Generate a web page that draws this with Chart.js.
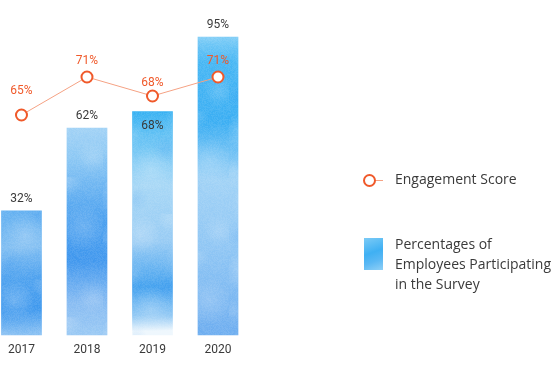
<!DOCTYPE html>
<html>
<head>
<meta charset="utf-8">
<script src="https://cdn.jsdelivr.net/npm/chart.js@4.4.1/dist/chart.umd.min.js"></script>
<style>
  html, body { margin: 0; padding: 0; background: #ffffff; }
  #wrap { position: relative; width: 556px; height: 372px; overflow: hidden; }
  #c { position: absolute; left: 0; top: 0; }
  .lg { position: absolute; font-family: "Open Sans", Roboto, sans-serif; font-size: 14px; color: #3a3a3a; line-height: 20px; white-space: nowrap; }
  #sw1 { position: absolute; left: 363px; top: 174px; width: 9px; height: 9px; border: 2px solid #f0592a; border-radius: 50%; background: #fff; }
  #sw1l { position: absolute; left: 375px; top: 180px; width: 8px; height: 1px; background: #f5a284; }
  #sw2 { position: absolute; left: 364px; top: 238px; width: 19px; height: 32px;
         background: linear-gradient(160deg, #7ccbf6 0%, #3fb0f3 45%, #5ab8f4 70%, #8fd0f6 100%); }
</style>
</head>
<body>
<div id="wrap">
  <canvas id="c" width="556" height="372"></canvas>
  <div id="sw1l"></div>
  <div id="sw1"></div>
  <div class="lg" id="t1" style="left:395px; top:169px;">Engagement Score</div>
  <div id="sw2"></div>
  <div class="lg" id="t2" style="left:395px; top:234px;">Percentages of<br>Employees Participating<br>in the Survey</div>
</div>
<script>
// ---- data ----
const years = ['2017', '2018', '2019', '2020'];
const participation = [32, 62, 68, 95];
const engagement = [65, 71, 68, 71];
const seriesNames = ['Engagement Score', 'Percentages of Employees Participating in the Survey'];

// ---- axis ranges ----
const barAxisMin = -13, barAxisMax = 108.4;
const lineAxisMin = 30.26, lineAxisMax = 83.16;

// ---- styles (watercolor-like gradient stops per bar) ----
const barStops = [
  [[0, '#62b0f1'], [0.3, '#7ebdf2'], [0.55, '#4ea2ef'], [0.8, '#3d98ee'], [1, '#86bff3']],
  [[0, '#a3d3f6'], [0.15, '#8cc8f4'], [0.45, '#4aa0ef'], [0.65, '#3f97ee'], [0.85, '#86bbf2'], [1, '#98c8f4']],
  [[0, '#2eaef2'], [0.12, '#5fc0f4'], [0.35, '#a6d7f6'], [0.6, '#97cbf4'], [0.8, '#44a2ef'], [0.93, '#8cc6f4'], [1, '#eef7fd']],
  [[0, '#86d0f7'], [0.1, '#45b6f4'], [0.3, '#3aaef3'], [0.5, '#a0d2f6'], [0.75, '#8cc4f4'], [1, '#6eaef0']]
];
const ORANGE = '#f0592a';
const ORANGE_LINE = '#f5a284';
const TEXT = '#3a3a3a';
const FONT = 'Roboto, "Noto Sans", sans-serif';

// soft paper-like texture overlay (deterministic hash noise + soft blotches)
function makeTexture() {
  const cv = document.createElement('canvas');
  cv.width = 80; cv.height = 140;
  const t = cv.getContext('2d');
  const img = t.createImageData(80, 140);
  for (let y = 0; y < 140; y++) {
    for (let x = 0; x < 80; x++) {
      const h = Math.abs(Math.sin(x * 12.9898 + y * 78.233) * 43758.5453) % 1;
      const k = (y * 80 + x) * 4;
      img.data[k] = 255; img.data[k + 1] = 255; img.data[k + 2] = 255;
      img.data[k + 3] = Math.floor(h * 28);
    }
  }
  t.putImageData(img, 0, 0);
  const blots = [[15, 20, 20, 0.22], [60, 50, 24, 0.18], [25, 95, 22, 0.2], [70, 120, 16, 0.16], [45, 5, 14, 0.18], [5, 60, 12, 0.14]];
  blots.forEach(b => {
    const g = t.createRadialGradient(b[0], b[1], 0, b[0], b[1], b[2]);
    g.addColorStop(0, 'rgba(255,255,255,' + b[3] + ')');
    g.addColorStop(1, 'rgba(255,255,255,0)');
    t.fillStyle = g;
    t.fillRect(0, 0, 80, 140);
  });
  const darks = [[40, 75, 14, 0.12], [10, 125, 12, 0.1]];
  darks.forEach(b => {
    const g = t.createRadialGradient(b[0], b[1], 0, b[0], b[1], b[2]);
    g.addColorStop(0, 'rgba(30,130,235,' + b[3] + ')');
    g.addColorStop(1, 'rgba(30,130,235,0)');
    t.fillStyle = g;
    t.fillRect(0, 0, 80, 140);
  });
  return cv;
}
const textureCanvas = makeTexture();

function barFill(ctx) {
  const chart = ctx.chart;
  const area = chart.chartArea;
  if (!area || ctx.dataIndex === undefined) return '#4aa6f0';
  const ys = chart.scales.y;
  const top = ys.getPixelForValue(participation[ctx.dataIndex]);
  const bottom = area.bottom;
  const g = chart.ctx.createLinearGradient(0, top, 6, bottom);
  barStops[ctx.dataIndex].forEach(s => g.addColorStop(s[0], s[1]));
  return g;
}

const texturePlugin = {
  id: 'barTexture',
  afterDatasetDraw(chart, args) {
    if (args.index !== 1) return;
    const c = chart.ctx;
    const pat = c.createPattern(textureCanvas, 'repeat');
    args.meta.data.forEach((el, i) => {
      const w = el.width;
      c.save();
      c.beginPath();
      c.rect(el.x - w / 2, el.y, w, el.base - el.y);
      c.clip();
      c.translate(i * 23, i * 37);
      c.fillStyle = pat;
      c.fillRect(el.x - w / 2 - i * 23, el.y - i * 37, w, el.base - el.y);
      c.restore();
    });
  }
};

const labelPlugin = {
  id: 'valueLabels',
  afterDatasetsDraw(chart) {
    const c = chart.ctx;
    c.save();
    c.font = '12px ' + FONT;
    c.textAlign = 'center';
    c.textBaseline = 'middle';
    const mb = chart.getDatasetMeta(1);
    mb.data.forEach((el, i) => {
      c.fillStyle = TEXT;
      const inside = i === 2;
      const y = inside ? el.y + 15 : el.y - 12;
      c.fillText(participation[i] + '%', el.x, y);
    });
    const ml = chart.getDatasetMeta(0);
    ml.data.forEach((el, i) => {
      c.fillStyle = ORANGE;
      const off = i === 0 ? 24 : (i === 2 ? 13 : 16);
      c.fillText(engagement[i] + '%', el.x, el.y - off);
    });
    c.restore();
  }
};

new Chart(document.getElementById('c'), {
  data: {
    labels: years,
    datasets: [
      {
        type: 'line',
        label: seriesNames[0],
        data: engagement,
        yAxisID: 'y1',
        borderColor: ORANGE_LINE,
        borderWidth: 1,
        pointRadius: 5.5,
        pointBorderWidth: 2,
        pointBorderColor: ORANGE,
        pointBackgroundColor: '#ffffff',
        tension: 0,
        clip: false,
        order: 0
      },
      {
        type: 'bar',
        label: seriesNames[1],
        data: participation,
        yAxisID: 'y',
        base: barAxisMin,
        backgroundColor: barFill,
        borderWidth: 0,
        barThickness: 40,
        clip: false,
        order: 1
      }
    ]
  },
  options: {
    responsive: false,
    animation: false,
    devicePixelRatio: 1,
    layout: { autoPadding: false, padding: { left: 20.5, right: 338, top: 0, bottom: 0 } },
    plugins: { legend: { display: false }, tooltip: { enabled: false } },
    scales: {
      x: {
        type: 'category',
        offset: false,
        grid: { display: false, drawTicks: false },
        border: { display: false },
        ticks: { color: TEXT, font: { family: FONT, size: 12 }, padding: 8, maxRotation: 0, autoSkip: false },
        afterFit: (s) => { s.height = 37; }
      },
      y: { display: false, min: barAxisMin, max: barAxisMax },
      y1: { display: false, min: lineAxisMin, max: lineAxisMax }
    }
  },
  plugins: [texturePlugin, labelPlugin]
});
</script>
</body>
</html>
